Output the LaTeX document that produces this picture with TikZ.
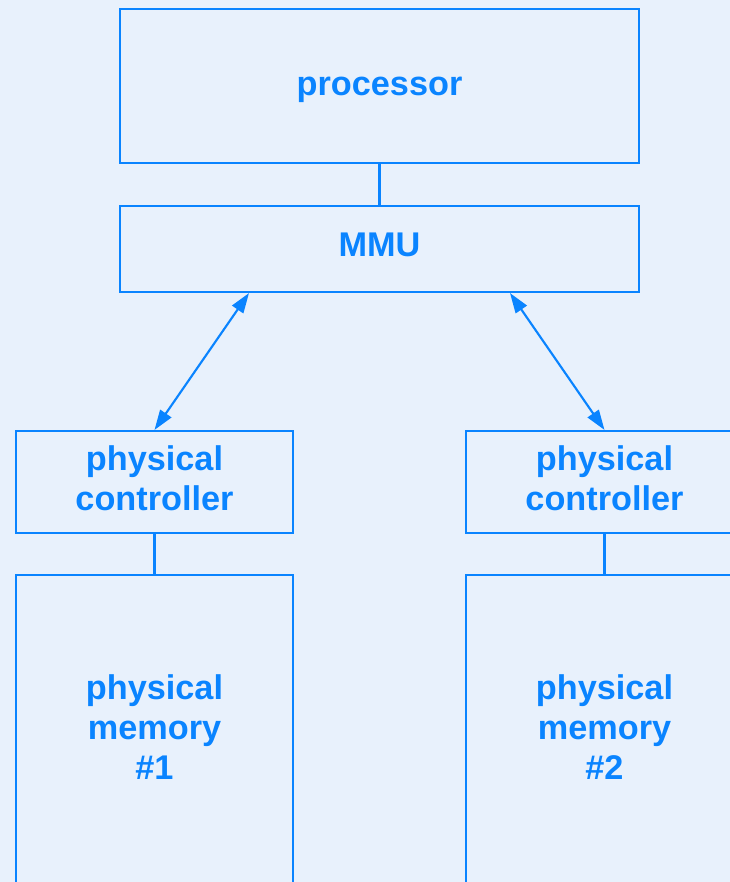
\documentclass[tikz,border=0pt]{standalone}
\usepackage{fontspec}
\setmainfont{Liberation Sans}
\usetikzlibrary{arrows.meta}
\definecolor{bgc}{RGB}{232,241,252}
\definecolor{linec}{RGB}{10,132,255}
\tikzset{
  box/.style={draw=linec, line width=1.6pt, rectangle, inner sep=0pt},
  lbl/.style={text=linec, align=center, inner sep=0pt, font=\fontsize{25.7}{30}\selectfont\bfseries},
  conn/.style={draw=linec, line width=1.6pt},
  biarrow/.style={conn, {Triangle[length=15pt,width=10pt]}-{Triangle[length=15pt,width=10pt]}}
}
\begin{document}
\begin{tikzpicture}[x=0.75pt,y=-0.75pt]
\path[fill=bgc] (0,0) rectangle (730,882);
\useasboundingbox (0,0) rectangle (730,882);
\clip (0,0) rectangle (730,882);
\node[box, minimum width=389.25pt, minimum height=115.5pt] (proc) at (379.5,86) {};
\node[box, minimum width=389.25pt, minimum height=64.5pt] (mmu) at (379.5,249) {};
\node[box, minimum width=207.75pt, minimum height=76.5pt] (ctrlL) at (154.5,482) {};
\node[box, minimum width=207.75pt, minimum height=76.5pt] (ctrlR) at (604.5,482) {};
\node[box, minimum width=207.75pt, minimum height=270pt] (memL) at (154.5,755) {};
\node[box, minimum width=207.75pt, minimum height=270pt] (memR) at (604.5,755) {};
\node[lbl] (procT) at (379.5,90) {processor};
\node[lbl] (mmuT) at (379.5,245) {MMU};
\node[lbl] (ctrlLT) at (154.5,478) {physical\\controller};
\node[lbl] (ctrlRT) at (604.5,478) {physical\\controller};
\node[lbl] (memLT) at (154.5,727) {physical\\memory\\\#1};
\node[lbl] (memRT) at (604.5,727) {physical\\memory\\\#2};
\draw[conn] (proc.south) -- (mmu.north);
\draw[conn] (ctrlL.south) -- (memL.north);
\draw[conn] (ctrlR.south) -- (memR.north);
\draw[biarrow] ([xshift=-97.875pt]mmu.south) -- (ctrlL.north);
\draw[biarrow] ([xshift=97.875pt]mmu.south) -- (ctrlR.north);
\end{tikzpicture}
\end{document}
